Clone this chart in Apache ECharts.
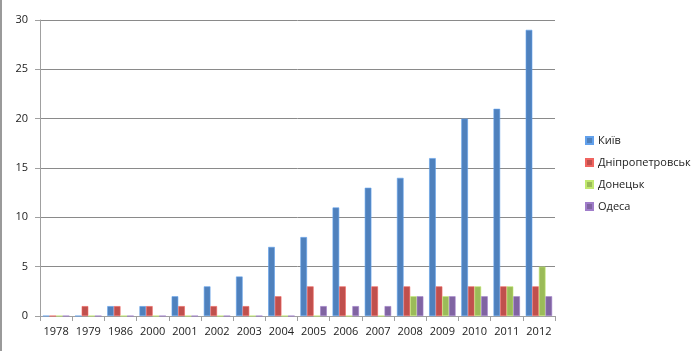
<!DOCTYPE html>
<html>
<head>
<meta charset="utf-8">
<script src="https://cdn.jsdelivr.net/npm/echarts@6/dist/echarts.min.js"></script>
<style>
html, body { margin: 0; padding: 0; background: #fff; }
#chart { width: 700px; height: 351px; }
</style>
</head>
<body>
<div id="chart"></div>
<script>
// роки
var years = ['1978', '1979', '1986', '2000', '2001', '2002', '2003', '2004',
	'2005', '2006', '2007', '2008', '2009', '2010', '2011', '2012'];
var kyiv = [0, 0, 1, 1, 2, 3, 4, 7, 8, 11, 13, 14, 16, 20, 21, 29];
var dnipro = [0, 1, 1, 1, 1, 1, 1, 2, 3, 3, 3, 3, 3, 3, 3, 3];
var donetsk = [0, 0, 0, 0, 0, 0, 0, 0, 0, 0, 0, 2, 2, 3, 3, 5];
var odesa = [0, 0, 0, 0, 0, 0, 0, 0, 1, 1, 1, 2, 2, 2, 2, 2];
var yTicks = [0, 5, 10, 15, 20, 25, 30];

var names = ['Київ', 'Дніпропетровськ', 'Донецьк', 'Одеса'];
var colors = ['#4F81BD', '#C0504D', '#9BBB59', '#8064A2'];
var values = [kyiv, dnipro, donetsk, odesa];

function makeSeries(i) {
	return {
		name: names[i],
		type: 'bar',
		data: values[i],
		barGap: '0%',
		barCategoryGap: '18%',
		itemStyle: {
			color: colors[i],
			borderColor: echarts.color.lift(colors[i], -0.25),
			borderWidth: 0.6
		}
	};
}

var myChart = echarts.init(document.getElementById('chart'));
var option = {
	animation: false,
	textStyle: { fontFamily: 'Open Sans' },
	// рамка зліва
	graphic: [{
		type: 'rect',
		left: 0, top: 0,
		shape: { width: 2, height: 351 },
		style: { fill: '#9a9a9a' }
	}],
	legend: {
		data: names,
		orient: 'vertical',
		left: 580,
		top: 130,
		itemWidth: 7,
		itemHeight: 7,
		itemGap: 11,
		icon: 'rect',
		textStyle: { fontSize: 11, color: '#222', overflow: 'none', width: 115 }
	},
	grid: {
		left: 40,
		right: 145,
		top: 20,
		bottom: 35
	},
	xAxis: {
		type: 'category',
		data: years,
		axisLine: { lineStyle: { color: '#a0a0a0' } },
		axisTick: { show: true, lineStyle: { color: '#a0a0a0' } },
		axisLabel: { fontSize: 11, color: '#222', margin: 10, interval: 0 }
	},
	yAxis: {
		type: 'value',
		min: yTicks[0],
		max: yTicks[yTicks.length - 1],
		interval: 5,
		axisLine: { show: true, lineStyle: { color: '#a0a0a0' } },
		axisTick: { show: true, lineStyle: { color: '#a0a0a0' } },
		axisLabel: { fontSize: 11, color: '#222', margin: 12 },
		splitLine: { lineStyle: { color: '#8a8a8a', width: 1 } }
	},
	series: [makeSeries(0), makeSeries(1), makeSeries(2), makeSeries(3)]
};
myChart.setOption(option, true);
</script>
</body>
</html>
